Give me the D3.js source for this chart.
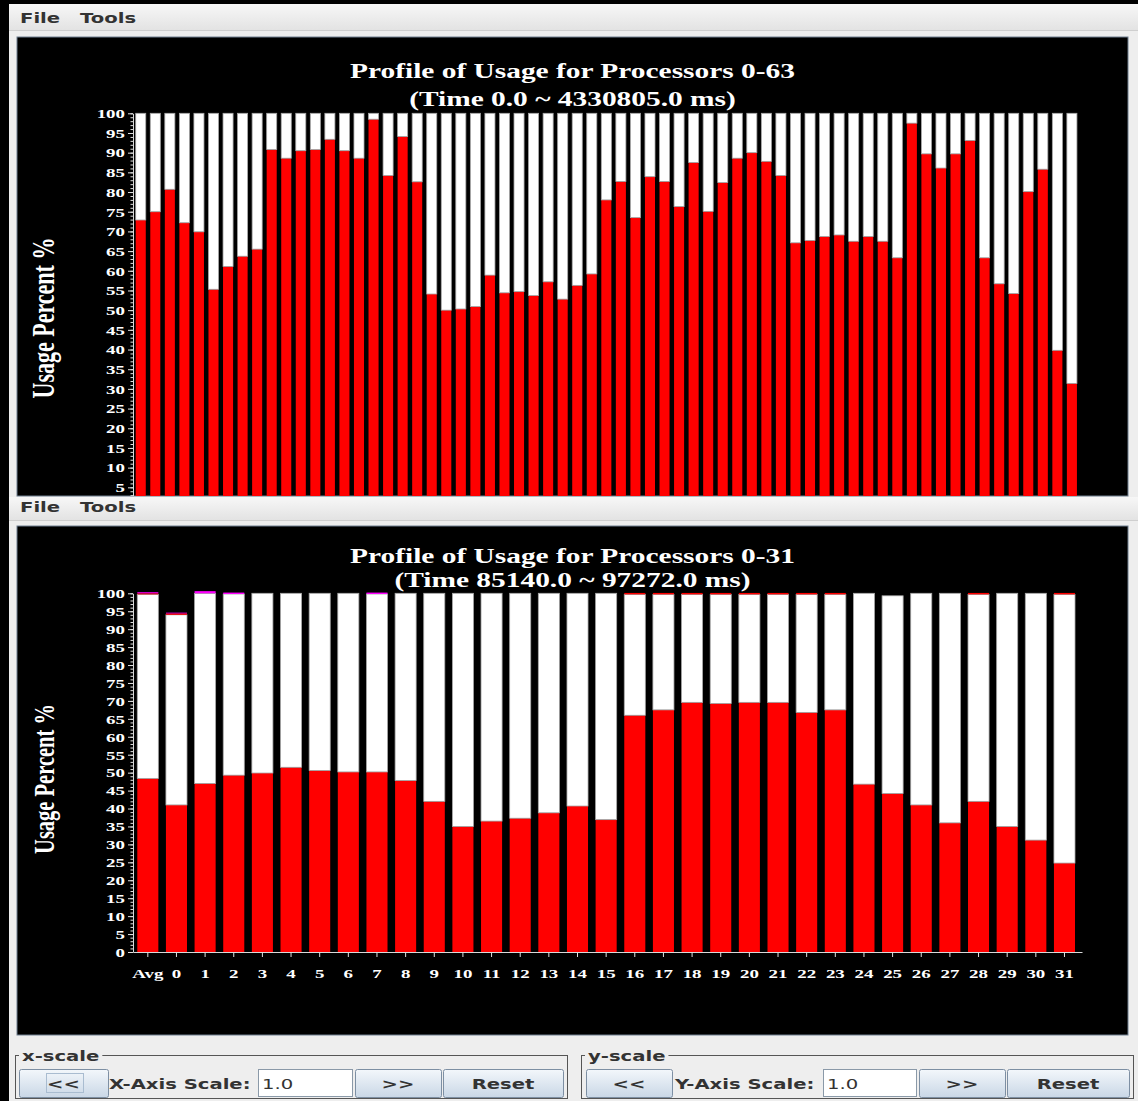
<!DOCTYPE html>
<html lang="en">
<head>
<meta charset="UTF-8">
<title>Profile of Usage</title>
<style>
  body { margin: 0; background: #000; }
  svg { display: block; }
  .serif { font-family: "Liberation Serif", "Times New Roman", serif; font-weight: bold; fill: #fff; }
  .ui { font-family: "DejaVu Sans", sans-serif; font-weight: bold; font-size: 14px; fill: #333; }
  .ui.plain { font-weight: normal; }
</style>
</head>
<body>
<svg id="screen" width="1138" height="1101"></svg>

<script src="https://d3js.org/d3.v7.min.js"></script>
<script>
// ---- data ----
const topProcs = ["Avg"].concat(d3.range(64).map(String));
const topUsage = [72.9, 75.0, 80.7, 72.2, 69.9, 55.3, 61.1, 63.7, 65.5, 90.8, 88.6, 90.5, 90.8,
  93.4, 90.5, 88.6, 98.5, 84.2, 94.1, 82.6, 54.1, 50.0, 50.3, 50.9, 58.9, 54.4, 54.7, 53.7,
  57.2, 52.8, 56.3, 59.2, 78.0, 82.7, 73.5, 83.9, 82.7, 76.3, 87.5, 75.1, 82.4, 88.6, 90.0,
  87.8, 84.2, 67.1, 67.7, 68.7, 69.1, 67.5, 68.7, 67.5, 63.3, 97.5, 89.7, 86.1, 89.7, 93.1,
  63.3, 56.7, 54.2, 80.1, 85.8, 39.8, 31.4];

const botProcs = ["Avg"].concat(d3.range(32).map(String));
const botUsage = [48.4, 41.0, 47.0, 49.3, 49.9, 51.5, 50.6, 50.2, 50.2, 47.8, 42.0, 35.0, 36.5,
  37.3, 38.8, 40.7, 36.9, 66.0, 67.5, 69.6, 69.3, 69.6, 69.6, 66.8, 67.5, 46.8, 44.2, 41.0,
  36.0, 42.0, 35.0, 31.2, 24.8];
const botIdle = [51.3, 53.0, 53.0, 50.5, 50.1, 48.5, 49.4, 49.8, 49.6, 52.2, 58.0, 65.0, 63.5,
  62.7, 61.2, 59.3, 63.1, 33.7, 32.2, 30.1, 30.4, 30.1, 30.1, 32.9, 32.2, 53.2, 55.1, 59.0,
  64.0, 57.7, 65.0, 68.8, 74.9];
const botOverhead = [0.3, 0.4, 0, 0, 0, 0, 0, 0, 0, 0, 0, 0, 0, 0, 0, 0, 0, 0.4, 0.4, 0.4, 0.4,
  0.4, 0.4, 0.4, 0.4, 0, 0, 0, 0, 0.4, 0, 0, 0.4];
const botOther = [0.3, 0.2, 0.6, 0.4, 0, 0, 0, 0, 0.4, 0, 0, 0, 0, 0, 0, 0, 0, 0, 0, 0, 0, 0, 0,
  0, 0, 0, 0, 0, 0, 0, 0, 0, 0];

const colors = { usage: "#ff0000", idle: "#ffffff", overhead: "#ff0000", other: "#ff00ff" };

// the screenshot is stretched sideways, so every text gets widened by this factor
const SX = 1.4;
function stretch(sel) {
  sel.each(function () {
    const w = this.getComputedTextLength();
    d3.select(this).attr("textLength", w * SX).attr("lengthAdjust", "spacingAndGlyphs");
  });
}

const svg = d3.select("#screen");
const defs = svg.append("defs");

const menuGrad = defs.append("linearGradient").attr("id", "menuGrad").attr("x2", 0).attr("y2", 1);
menuGrad.append("stop").attr("offset", 0).attr("stop-color", "#f7f7f7");
menuGrad.append("stop").attr("offset", 1).attr("stop-color", "#e3e3e3");
const btnGrad = defs.append("linearGradient").attr("id", "btnGrad").attr("x2", 0).attr("y2", 1);
btnGrad.append("stop").attr("offset", 0).attr("stop-color", "#f3f7fb");
btnGrad.append("stop").attr("offset", 1).attr("stop-color", "#c9d7e6");

// ---- window frames ----
svg.append("rect").attr("width", 1138).attr("height", 1101).attr("fill", "#000");
svg.append("rect").attr("x", 9).attr("y", 4).attr("width", 1129).attr("height", 1097).attr("fill", "#eeeeee");

function menuBar(y, h, baseline) {
  svg.append("rect").attr("x", 9).attr("y", y).attr("width", 1129).attr("height", h).attr("fill", "url(#menuGrad)");
  svg.append("line").attr("x1", 9).attr("x2", 1138).attr("y1", y + h + 0.5).attr("y2", y + h + 0.5).attr("stroke", "#cfcfcf");
  svg.append("text").attr("class", "ui").attr("x", 20).attr("y", baseline).text("File").call(stretch);
  svg.append("text").attr("class", "ui").attr("x", 80).attr("y", baseline).text("Tools").call(stretch);
}
menuBar(4, 26, 22.5);
menuBar(497, 23, 512);

function panel(y, h, id) {
  defs.append("clipPath").attr("id", id).append("rect")
    .attr("x", 17).attr("y", y).attr("width", 1111).attr("height", h);
  svg.append("rect").attr("x", 17).attr("y", y).attr("width", 1111).attr("height", h)
    .attr("fill", "#000").attr("stroke", "#6f7f8f");
  return svg.append("g").attr("clip-path", `url(#${id})`);
}

// ---- one stacked usage chart ----
function drawChart(g, o) {
  const x = d3.scaleBand().domain(o.rows.map(d => d.proc)).range([133, 1082])
    .paddingInner(o.padIn).paddingOuter(o.padOut).align(o.align);
  const y = d3.scaleLinear().domain([0, 100]).range([o.yBottom, o.yTop]);

  const series = d3.stack().keys(o.keys)(o.rows);
  g.append("g").selectAll("g").data(series).join("g")
      .attr("fill", s => colors[s.key])
      .attr("stroke", s => s.key === "idle" ? "#a8a8a8" : null)
      .attr("stroke-width", 0.8)
    .selectAll("rect").data(s => s.filter(d => d[1] > d[0])).join("rect")
      .attr("x", d => x(d.data.proc))
      .attr("width", x.bandwidth())
      .attr("y", d => y(d[1]))
      .attr("height", d => y(d[0]) - y(d[1]));

  // y axis: minor tick every 1, labelled tick every 5 (only those inside the panel)
  const ya = g.append("g").attr("transform", "translate(133,0)").attr("color", "#e0e0e0");
  ya.call(d3.axisLeft(y).tickValues(d3.range(0, 101, 1)).tickSize(2.5).tickSizeOuter(0).tickFormat(""));
  const yl = ya.append("g")
    .call(d3.axisLeft(y).tickValues(d3.range(o.minLabel, 101, 5)).tickSize(5).tickSizeOuter(0).tickPadding(3));
  yl.select(".domain").remove();
  yl.selectAll("text").attr("class", "serif").attr("font-size", 13.5).attr("fill", "#fff").call(stretch);

  if (o.xLabels) {
    const xa = g.append("g").attr("transform", `translate(0,${o.yBottom})`).attr("color", "#e0e0e0")
      .call(d3.axisBottom(x).tickSize(5).tickSizeOuter(0));
    xa.selectAll("text").attr("class", "serif").attr("font-size", 13.5).attr("fill", "#fff")
      .attr("y", 26).attr("dy", null).call(stretch);
  }
  g.selectAll(".domain").attr("stroke", "#d8d8d8");

  o.title.forEach((t, i) => {
    g.append("text").attr("class", "serif").attr("font-size", 21).attr("text-anchor", "middle")
      .attr("x", 572.5).attr("y", o.titleY[i]).text(t).call(stretch);
  });

  g.append("text").attr("class", "serif").attr("font-size", o.labelSize).attr("text-anchor", "middle")
    .attr("transform", `translate(54,${o.labelY}) scale(${SX},1) rotate(-90)`)
    .text("Usage Percent %");
}

const topRows = topProcs.map((p, i) => ({ proc: p, usage: topUsage[i], idle: 100 - topUsage[i] }));
const botRows = botProcs.map((p, i) => ({
  proc: p, usage: botUsage[i], idle: botIdle[i], overhead: botOverhead[i], other: botOther[i]
}));

// the upper window is cut off by the lower one, so its x axis stays hidden
drawChart(panel(37, 459, "clipTop"), {
  rows: topRows, keys: ["usage", "idle"],
  padIn: 0.31, padOut: 0.268, align: 0.35,
  yBottom: 507, yTop: 113.3, minLabel: 5, xLabels: false,
  title: ["Profile of Usage for Processors 0-63", "(Time 0.0 ~ 4330805.0 ms)"],
  titleY: [78, 106], labelY: 318, labelSize: 22
});

drawChart(panel(526, 509, "clipBot"), {
  rows: botRows, keys: ["usage", "idle", "overhead", "other"],
  padIn: 0.265, padOut: 0.197, align: 0.38,
  yBottom: 952, yTop: 593.3, minLabel: 0, xLabels: true,
  title: ["Profile of Usage for Processors 0-31", "(Time 85140.0 ~ 97272.0 ms)"],
  titleY: [563, 587], labelY: 779, labelSize: 20.5
});

// ---- scale controls along the bottom ----
function button(x, w, label) {
  svg.append("rect").attr("x", x + 0.5).attr("y", 1069.5).attr("width", w).attr("height", 28).attr("rx", 2)
    .attr("fill", "url(#btnGrad)").attr("stroke", "#7d8fa3");
  svg.append("text").attr("class", "ui").attr("text-anchor", "middle")
    .attr("x", x + w / 2).attr("y", 1089).text(label).call(stretch);
}

function scaleGroup(x0, x1, name, axisName, parts) {
  svg.append("rect").attr("x", x0 + 0.5).attr("y", 1055.5).attr("width", x1 - x0).attr("height", 43)
    .attr("fill", "none").attr("stroke", "#555");
  const t = svg.append("text").attr("class", "ui").attr("x", x0 + 7).attr("y", 1061).text(name).call(stretch);
  const bb = t.node().getBBox();
  svg.insert("rect", () => t.node()).attr("x", x0 + 4).attr("y", 1050).attr("width", bb.width + 6)
    .attr("height", 10).attr("fill", "#eeeeee");
  button(parts.left[0], parts.left[1], "<<");
  svg.append("text").attr("class", "ui").attr("x", parts.label).attr("y", 1089)
    .text(axisName + " Scale:").call(stretch);
  svg.append("rect").attr("x", parts.field[0] + 0.5).attr("y", 1069.5).attr("width", parts.field[1]).attr("height", 27)
    .attr("fill", "#fff").attr("stroke", "#8a99a8");
  svg.append("text").attr("class", "ui plain").attr("x", parts.field[0] + 4).attr("y", 1089)
    .text("1.0").call(stretch);
  button(parts.right[0], parts.right[1], ">>");
  button(parts.reset[0], parts.reset[1], "Reset");
}

scaleGroup(15, 567, "x-scale", "X-Axis", {
  left: [19, 89], label: 109, field: [258, 94], right: [355, 86], reset: [443, 120]
});
// focus marker around the first button's text
svg.append("rect").attr("x", 46.5).attr("y", 1073.5).attr("width", 37).attr("height", 19)
  .attr("fill", "none").attr("stroke", "#a9bcd0");
scaleGroup(581, 1133, "y-scale", "Y-Axis", {
  left: [586, 86], label: 675, field: [823, 93], right: [919, 86], reset: [1007, 122]
});
</script>
</body>
</html>
